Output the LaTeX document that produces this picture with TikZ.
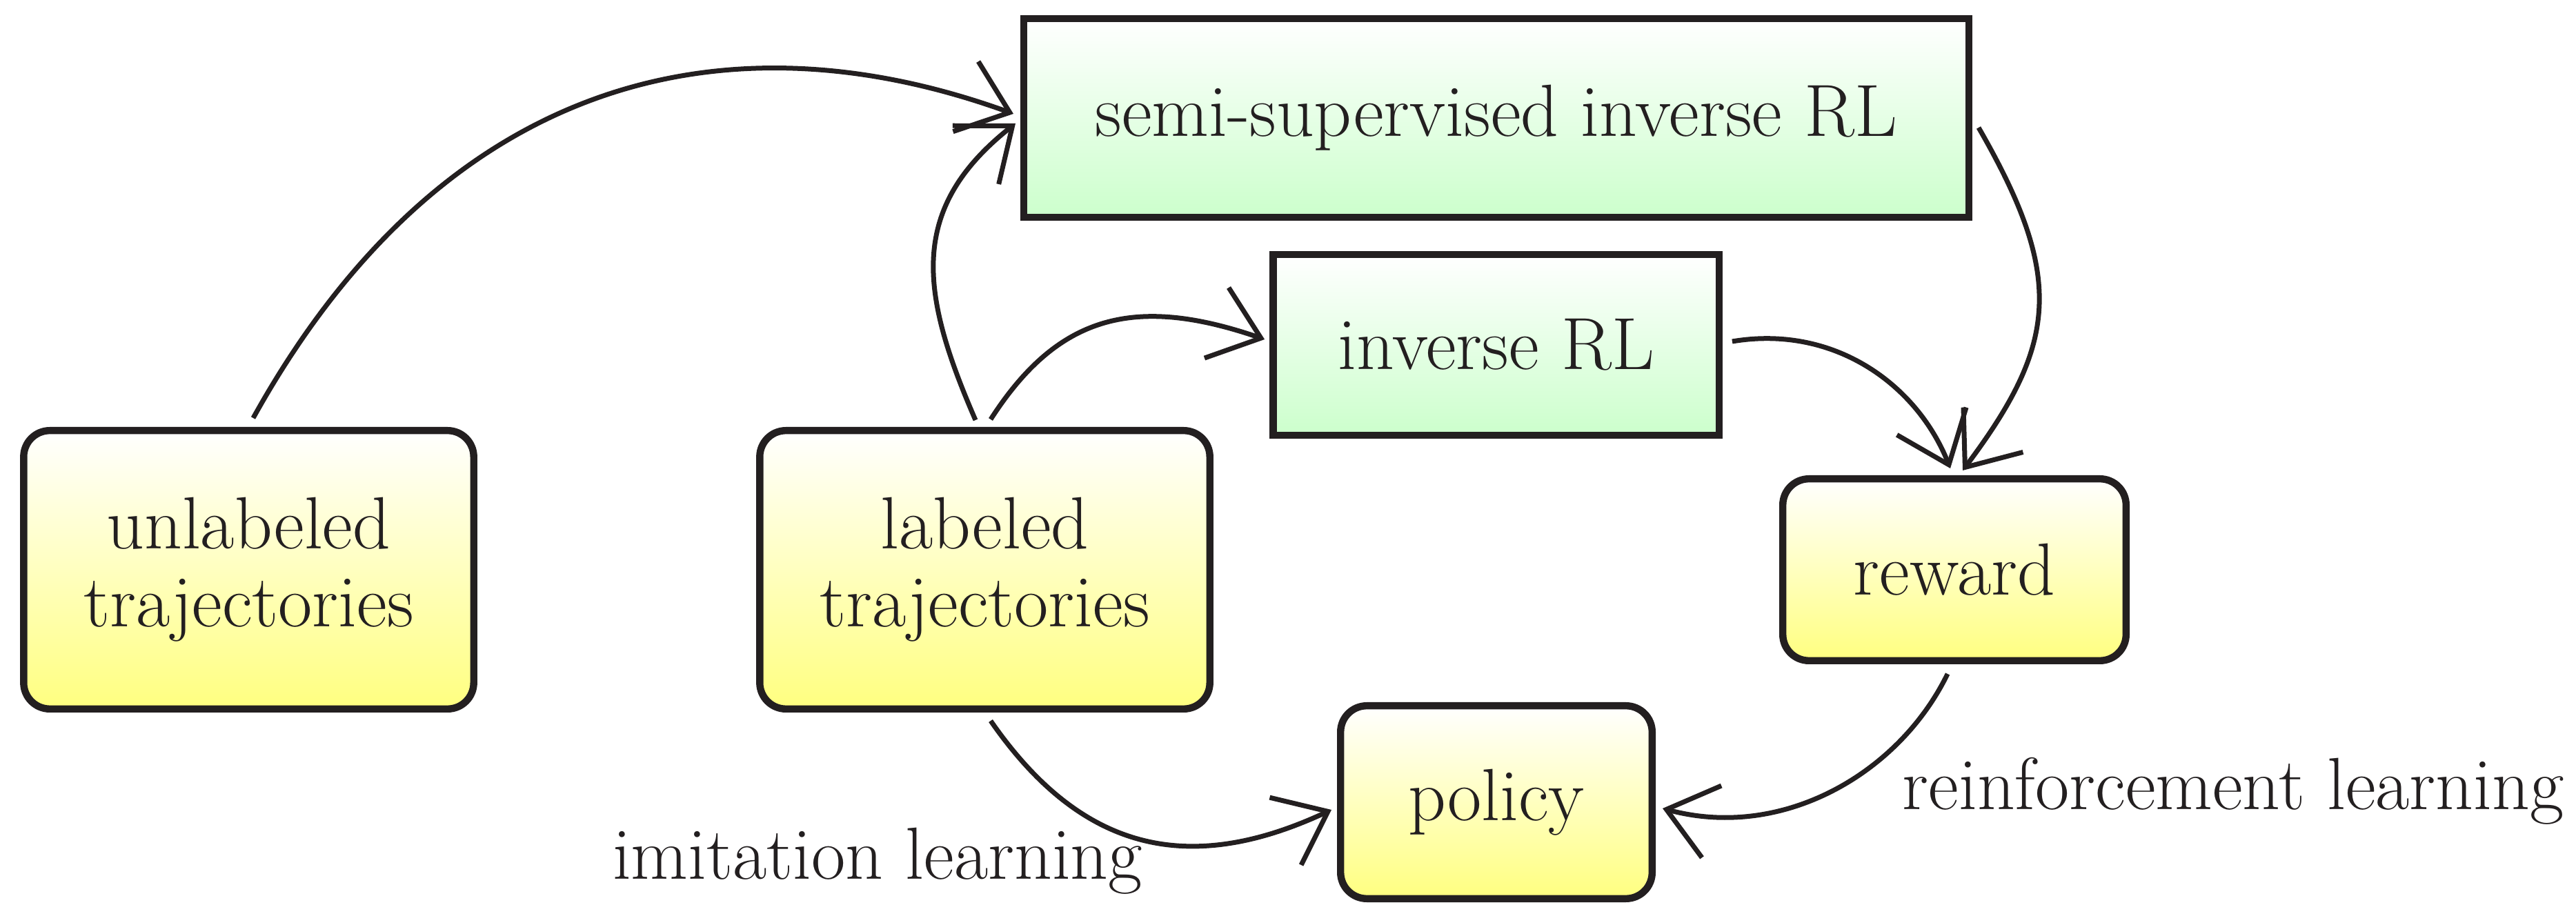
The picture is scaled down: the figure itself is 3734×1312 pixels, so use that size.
\documentclass[tikz,border=0pt]{standalone}
\usepackage{fontspec}
\usetikzlibrary{arrows.meta,calc}
\definecolor{ink}{RGB}{35,31,32}
\tikzset{
  box/.style={draw=ink, line width=2.6pt, align=center, inner sep=0pt, text=ink,
    font=\fontsize{26.8}{28.25}\selectfont},
  greenbox/.style={box, top color=white, bottom color=green!20},
  yellowbox/.style={box, rounded corners=9.5pt, top color=white, bottom color=yellow!50},
  conn/.style={draw=ink, line width=1.75pt,
    -{Straight Barb[length=17pt,width=27pt,sharp]}},
  lbl/.style={inner sep=0pt, text=ink, font=\fontsize{26.8}{28.25}\selectfont}
}
\begin{document}
\begin{tikzpicture}[x=0.25pt,y=-0.25pt]
\useasboundingbox (0,0) rectangle (3734,1312);

% boxes
\node[greenbox, minimum width=342.4pt, minimum height=71.9pt] (semi) at (2169,171) {semi-supervised inverse RL};
\node[greenbox, minimum width=161.6pt, minimum height=65.4pt] (inv) at (2168.5,500) {inverse RL};
\node[yellowbox, minimum width=163.1pt, minimum height=100.9pt] (unl) at (360.5,826) {unlabeled\\trajectories};
\node[yellowbox, minimum width=163.1pt, minimum height=100.9pt] (lab) at (1427.5,826) {labeled\\trajectories};
\node[yellowbox, minimum width=124.4pt, minimum height=65.9pt] (rew) at (2833,826) {reward};
\node[yellowbox, minimum width=112.9pt, minimum height=69.9pt] (pol) at (2169,1163) {policy};

% edge labels
\node[lbl, anchor=base] (il) at (1272,1275) {imitation learning};
\node[lbl, anchor=base] (rl) at (3237,1174) {reinforcement learning};

% connectors
\draw[conn] ($(unl.north)+(6.5,-13)$) .. controls (639,116) and (1046,12) .. ($(semi.west)+(-10,-6)$);
\draw[conn] ($(lab.north)+(-13.5,-10)$) .. controls (1334,425) and (1315,303) .. ($(semi.west)+(-7,8)$);
\draw[conn] ($(lab.north)+(8.5,-11)$) .. controls (1533,457) and (1644,427) .. ($(inv.west)+(-7,-8)$);
\draw[conn] ($(semi.east)+(9,14)$) .. controls (2993,402) and (2983,498) .. ($(rew.north)+(12,-7)$);
\draw[conn] ($(inv.east)+(14,-5)$) .. controls (2659,470) and (2779,558) .. ($(rew.north)+(-6,-10)$);
\draw[conn] ($(lab.south)+(8.5,12)$) .. controls (1567,1234) and (1722,1271) .. ($(pol.west)+(-8,11)$);
\draw[conn] ($(rew.south)+(-10,14)$) .. controls (2753,1121) and (2584,1219) .. ($(pol.east)+(10,9)$);
\end{tikzpicture}
\end{document}
